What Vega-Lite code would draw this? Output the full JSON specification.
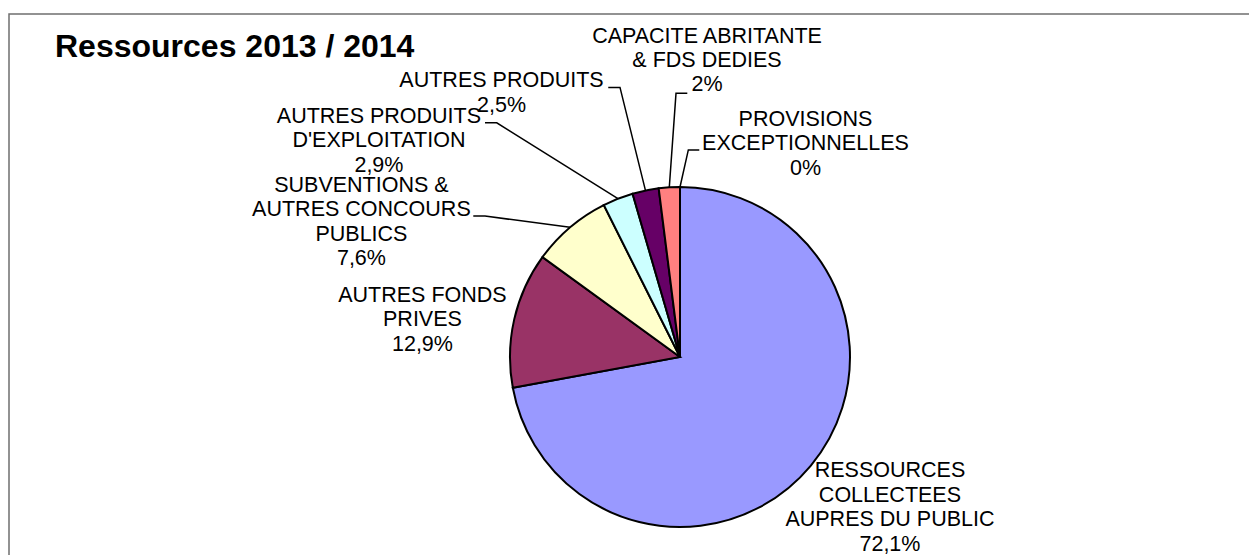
{
  "$schema": "https://vega.github.io/schema/vega-lite/v6.json",
  "width": 1246,
  "height": 547,
  "autosize": {"type": "none"},
  "padding": {"left": 9, "top": 14, "right": -6, "bottom": -6},
  "background": "white",
  "config": {
    "font": "Liberation Sans",
    "view": {"stroke": "#6f6f6f", "strokeWidth": 1.5}
  },
  "title": {
    "text": "Ressources 2013 / 2014",
    "anchor": "start",
    "frame": "group",
    "orient": "top",
    "baseline": "alphabetic",
    "offset": -43,
    "dx": 46,
    "dy": 32,
    "font": "Liberation Sans",
    "fontSize": 32,
    "fontWeight": "bold",
    "color": "black"
  },
  "datasets": {
    "slices": [
      {"poste": "RESSOURCES COLLECTEES AUPRES DU PUBLIC", "part": 72.1, "ordre": 1},
      {"poste": "AUTRES FONDS PRIVES", "part": 12.9, "ordre": 2},
      {"poste": "SUBVENTIONS & AUTRES CONCOURS PUBLICS", "part": 7.6, "ordre": 3},
      {"poste": "AUTRES PRODUITS D'EXPLOITATION", "part": 2.9, "ordre": 4},
      {"poste": "AUTRES PRODUITS", "part": 2.5, "ordre": 5},
      {"poste": "CAPACITE ABRITANTE & FDS DEDIES", "part": 2.0, "ordre": 6},
      {"poste": "PROVISIONS EXCEPTIONNELLES", "part": 0, "ordre": 7}
    ],
    "labels": [
      {"texte": "RESSOURCES|COLLECTEES|AUPRES DU PUBLIC|72,1%", "lx": 1.235, "ly": -0.708},
      {"texte": "AUTRES FONDS|PRIVES|12,9%", "lx": -1.515, "ly": 0.3235},
      {"texte": "SUBVENTIONS &|AUTRES CONCOURS|PUBLICS|7,6%", "lx": -1.874, "ly": 0.971},
      {"texte": "AUTRES PRODUITS|D'EXPLOITATION|2,9%", "lx": -1.771, "ly": 1.378},
      {"texte": "AUTRES PRODUITS|2,5%", "lx": -1.05, "ly": 1.586},
      {"texte": "CAPACITE ABRITANTE|& FDS DEDIES|2%", "lx": 0.159, "ly": 1.849},
      {"texte": "PROVISIONS|EXCEPTIONNELLES|0%", "lx": 0.738, "ly": 1.359}
    ],
    "leaders": [
      {"poste": "SUBVENTIONS", "pt": 1, "lx": -0.647, "ly": 0.763},
      {"poste": "SUBVENTIONS", "pt": 2, "lx": -1.147, "ly": 0.829},
      {"poste": "SUBVENTIONS", "pt": 3, "lx": -1.216, "ly": 0.829},
      {"poste": "EXPLOITATION", "pt": 1, "lx": -0.365, "ly": 0.931},
      {"poste": "EXPLOITATION", "pt": 2, "lx": -1.078, "ly": 1.378},
      {"poste": "EXPLOITATION", "pt": 3, "lx": -1.147, "ly": 1.378},
      {"poste": "AUTRES PRODUITS", "pt": 1, "lx": -0.203, "ly": 0.979},
      {"poste": "AUTRES PRODUITS", "pt": 2, "lx": -0.353, "ly": 1.586},
      {"poste": "AUTRES PRODUITS", "pt": 3, "lx": -0.422, "ly": 1.586},
      {"poste": "CAPACITE", "pt": 1, "lx": -0.063, "ly": 0.998},
      {"poste": "CAPACITE", "pt": 2, "lx": -0.0235, "ly": 1.551},
      {"poste": "CAPACITE", "pt": 3, "lx": 0.043, "ly": 1.551},
      {"poste": "PROVISIONS", "pt": 1, "lx": 0.0, "ly": 1.0},
      {"poste": "PROVISIONS", "pt": 2, "lx": 0.049, "ly": 1.218},
      {"poste": "PROVISIONS", "pt": 3, "lx": 0.1135, "ly": 1.218}
    ]
  },
  "layer": [
    {
      "data": {"name": "slices"},
      "mark": {"type": "arc", "outerRadius": 170, "stroke": "black", "strokeWidth": 2},
      "encoding": {
        "x": {"datum": 0, "type": "quantitative", "scale": {"domain": [-3.94706, 3.38235], "nice": false, "zero": false}, "axis": null},
        "y": {"datum": 0, "type": "quantitative", "scale": {"domain": [-1.2, 2.01765], "nice": false, "zero": false}, "axis": null},
        "theta": {"field": "part", "type": "quantitative", "stack": true},
        "order": {"field": "ordre", "type": "quantitative"},
        "color": {
          "field": "poste",
          "type": "nominal",
          "scale": {
            "domain": ["RESSOURCES COLLECTEES AUPRES DU PUBLIC", "AUTRES FONDS PRIVES", "SUBVENTIONS & AUTRES CONCOURS PUBLICS", "AUTRES PRODUITS D'EXPLOITATION", "AUTRES PRODUITS", "CAPACITE ABRITANTE & FDS DEDIES", "PROVISIONS EXCEPTIONNELLES"],
            "range": ["#9999FF", "#993366", "#FFFFCC", "#CCFFFF", "#660066", "#FF8080", "#0066CC"]
          },
          "legend": null
        }
      }
    },
    {
      "data": {"name": "leaders"},
      "mark": {"type": "line", "color": "black", "strokeWidth": 1.5},
      "encoding": {
        "x": {"field": "lx", "type": "quantitative", "scale": {"domain": [-3.94706, 3.38235], "nice": false, "zero": false}, "axis": null},
        "y": {"field": "ly", "type": "quantitative", "scale": {"domain": [-1.2, 2.01765], "nice": false, "zero": false}, "axis": null},
        "detail": {"field": "poste", "type": "nominal"},
        "order": {"field": "pt", "type": "quantitative"}
      }
    },
    {
      "data": {"name": "labels"},
      "mark": {"type": "text", "align": "center", "baseline": "alphabetic", "font": "Liberation Sans", "fontSize": 21.5, "lineBreak": "|", "lineHeight": 24.4, "color": "black"},
      "encoding": {
        "x": {"field": "lx", "type": "quantitative", "scale": {"domain": [-3.94706, 3.38235], "nice": false, "zero": false}, "axis": null},
        "y": {"field": "ly", "type": "quantitative", "scale": {"domain": [-1.2, 2.01765], "nice": false, "zero": false}, "axis": null},
        "text": {"field": "texte", "type": "nominal"}
      }
    }
  ]
}
